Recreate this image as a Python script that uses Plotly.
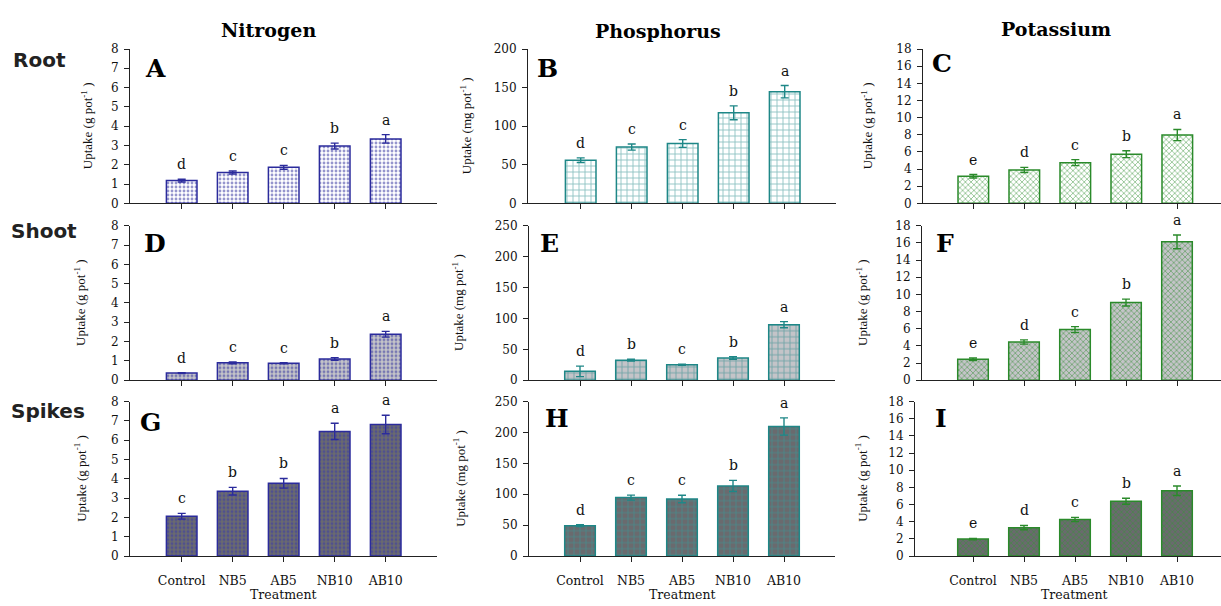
import plotly.graph_objects as go

W, H = 1221, 606

treatments = ["Control", "NB5", "AB5", "NB10", "AB10"]

# Nitrogen uptake (g pot-1)
n_root = [1.18, 1.60, 1.87, 2.97, 3.34]
n_root_err = [0.07, 0.08, 0.10, 0.15, 0.22]
n_root_sig = ["d", "c", "c", "b", "a"]
n_shoot = [0.37, 0.90, 0.88, 1.10, 2.38]
n_shoot_err = [0.02, 0.05, 0.03, 0.07, 0.15]
n_shoot_sig = ["d", "c", "c", "b", "a"]
n_spike = [2.06, 3.36, 3.77, 6.46, 6.82]
n_spike_err = [0.15, 0.20, 0.25, 0.42, 0.48]
n_spike_sig = ["c", "b", "b", "a", "a"]

# Phosphorus uptake (mg pot-1)
p_root = [56, 73, 77.6, 117.3, 144.7]
p_root_err = [3, 4, 5, 9, 8]
p_root_sig = ["d", "c", "c", "b", "a"]
p_shoot = [14.3, 32.3, 24.9, 36, 89.8]
p_shoot_err = [8.5, 1.5, 1.0, 2.0, 5.0]
p_shoot_sig = ["d", "b", "c", "b", "a"]
p_spike = [49.1, 94.6, 92.4, 113.6, 209.8]
p_spike_err = [1.5, 4, 6, 9, 14]
p_spike_sig = ["d", "c", "c", "b", "a"]

# Potassium uptake (g pot-1)
k_root = [3.16, 3.90, 4.75, 5.73, 7.97]
k_root_err = [0.20, 0.30, 0.35, 0.40, 0.65]
k_root_sig = ["e", "d", "c", "b", "a"]
k_shoot = [2.44, 4.45, 5.90, 9.05, 16.13]
k_shoot_err = [0.15, 0.25, 0.35, 0.40, 0.80]
k_shoot_sig = ["e", "d", "c", "b", "a"]
k_spike = [1.98, 3.31, 4.26, 6.39, 7.61]
k_spike_err = [0.08, 0.25, 0.25, 0.35, 0.55]
k_spike_sig = ["e", "d", "c", "b", "a"]

column_titles = ["Nitrogen", "Phosphorus", "Potassium"]
row_titles = ["Root", "Shoot", "Spikes"]
panel_letters = ["A", "B", "C", "D", "E", "F", "G", "H", "I"]
y_titles = ["Uptake (g pot<sup>-1</sup> )", "Uptake (mg pot<sup>-1</sup> )", "Uptake (g pot<sup>-1</sup> )"]
y_max = [8, 250, 18]
y_max_root = [8, 200, 18]
y_dtick = [1, 50, 2]
x_title = "Treatment"

data = [
    [(n_root, n_root_err, n_root_sig), (p_root, p_root_err, p_root_sig), (k_root, k_root_err, k_root_sig)],
    [(n_shoot, n_shoot_err, n_shoot_sig), (p_shoot, p_shoot_err, p_shoot_sig), (k_shoot, k_shoot_err, k_shoot_sig)],
    [(n_spike, n_spike_err, n_spike_sig), (p_spike, p_spike_err, p_spike_sig), (k_spike, k_spike_err, k_spike_sig)],
]

# ---- layout geometry (pixels) ----
col_colors = ["#2b2b9c", "#1e8787", "#2a8a2a"]
pattern_colors = [["#2b2b9c", "#1e8787", "#2a8a2a"],
                  ["#2b2b9c", "#1e8787", "#2a8a2a"],
                  ["#3535b0", "#2aa3a3", "#2f9a2f"]]
row_bg = ["#ffffff", "#c4c4c8", "#6a6a6e"]
patterns = [
    dict(shape=".", size=4, solidity=0.4),
    dict(shape="+", size=6, solidity=0.28),
    dict(shape="x", size=4, solidity=0.4),
]
row_px = [(43, 201), (224, 382), (404, 562)]
axis_left = [[130, 528, 923], [130, 529, 922], [130, 529, 915]]
first_center = [[181.7, 580.7, 973.3], [181.7, 580, 973], [181.7, 580, 973]]
spacing = 51.0
ytitle_x = [[87, 466, 867], [80, 458, 862], [80, 459, 861]]
letter_pos = [[(143, 63), (535, 63), (930, 58)],
              [(142, 242), (538, 242), (934, 242)],
              [(138, 425), (543, 421), (933, 421)]]

def px(x):
    return x / W

def py(y):
    return 1 - y / H

SERIF = "DejaVu Serif"
fig = go.Figure()
annotations = []
layout = dict(
    width=W, height=H, margin=dict(l=0, r=0, t=0, b=0),
    paper_bgcolor="white", plot_bgcolor="white", showlegend=False,
)

for r in range(3):
    for c in range(3):
        k = r * 3 + c + 1
        xa = "x" if k == 1 else f"x{k}"
        ya = "y" if k == 1 else f"y{k}"
        vals, errs, sig = data[r][c]
        col = col_colors[c]
        fig.add_trace(go.Bar(
            x=treatments, y=vals, xaxis=xa, yaxis=ya, width=0.6,
            marker=dict(color=row_bg[r], line=dict(color=col, width=1.5),
                        pattern=dict(fillmode="overlay", fgcolor=pattern_colors[r][c],
                                     bgcolor=row_bg[r], **patterns[c])),
            error_y=dict(type="data", array=errs, visible=True, color=col, thickness=1.4, width=4),
        ))
        L = axis_left[r][c]
        c0 = first_center[r][c]
        R = min(c0 + 5 * spacing, W)
        top, bot = row_px[r]
        ymax = y_max_root[c] if r == 0 else y_max[c]
        layout["xaxis" + ("" if k == 1 else str(k))] = dict(
            domain=[px(L), px(R)], anchor=ya, type="category",
            categoryorder="array", categoryarray=treatments,
            range=[-(c0 - L) / spacing, (R - c0) / spacing],
            showline=True, linecolor="#222", linewidth=1,
            ticks="outside", ticklen=5, tickcolor="#222",
            showticklabels=(r == 2), ticklabelstandoff=8,
            tickfont=dict(family=SERIF, size=12.5, color="#111"),
            showgrid=False, zeroline=False, fixedrange=True,
        )
        layout["yaxis" + ("" if k == 1 else str(k))] = dict(
            domain=[py(bot), py(top)], anchor=xa,
            range=[0, ymax], dtick=y_dtick[c], tick0=0,
            showline=True, linecolor="#222", linewidth=1,
            ticks="outside", ticklen=5, tickcolor="#222",
            tickfont=dict(family=SERIF, size=12, color="#111"),
            ticklabelstandoff=3,
            showgrid=False, zeroline=False, fixedrange=True,
        )
        for t, v, e, s in zip(treatments, vals, errs, sig):
            annotations.append(dict(
                x=t, y=v + e, xref=xa, yref=ya, text=s, showarrow=False,
                yanchor="bottom", yshift=5,
                font=dict(family=SERIF, size=14, color="#111"),
            ))
        lx, ly = letter_pos[r][c]
        annotations.append(dict(
            x=px(lx), y=py(ly), xref="paper", yref="paper", text="<b>" + panel_letters[k - 1] + "</b>",
            showarrow=False, xanchor="left", yanchor="middle",
            font=dict(family=SERIF, size=25, color="#000"),
        ))
        annotations.append(dict(
            x=px(ytitle_x[r][c]), y=py((top + bot) / 2), xref="paper", yref="paper",
            text=y_titles[c], textangle=-90, showarrow=False,
            xanchor="center", yanchor="middle",
            font=dict(family="Liberation Serif", size=13, color="#111"),
        ))
        if r == 2:
            annotations.append(dict(
                x=px((L + R) / 2 if c < 2 else 1074), y=py(601), xref="paper", yref="paper",
                text=x_title, showarrow=False, xanchor="center", yanchor="middle",
                font=dict(family=SERIF, size=12.5, color="#111"),
            ))

col_title_pos = [(268, 24), (658, 25), (1056, 23)]
for t, (x, y) in zip(column_titles, col_title_pos):
    annotations.append(dict(
        x=px(x), y=py(y), xref="paper", yref="paper", text="<b>" + t + "</b>",
        showarrow=False, xanchor="center", yanchor="middle",
        font=dict(family=SERIF, size=19, color="#000"),
    ))

row_title_pos = [(11, 54), (9, 229), (9, 414)]
for t, (x, y) in zip(row_titles, row_title_pos):
    annotations.append(dict(
        x=px(x), y=py(y), xref="paper", yref="paper", text="<b>" + t + "</b>",
        showarrow=False, xanchor="left", yanchor="middle",
        font=dict(family="DejaVu Sans", size=20, color="#222"),
    ))

layout["annotations"] = annotations
fig.update_layout(**layout)
fig.write_html("out.html")
